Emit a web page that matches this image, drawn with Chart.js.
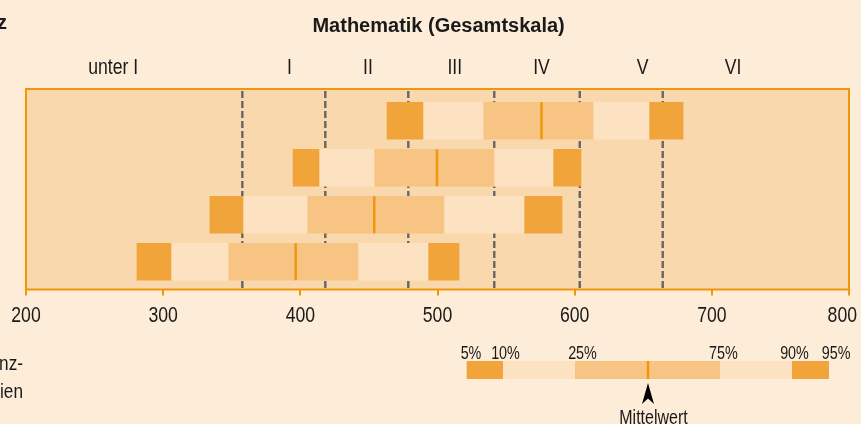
<!DOCTYPE html>
<html><head><meta charset="utf-8">
<script src="https://cdn.jsdelivr.net/npm/chart.js@4.4.0/dist/chart.umd.min.js"></script>
<style>html,body{margin:0;padding:0;background:#FCECD8;}canvas{display:block;}</style>
</head><body>
<canvas id="c" width="861" height="424"></canvas>
<script>
// ---- data ----
const categories = ['Gruppe 1', 'Gruppe 2', 'Gruppe 3', 'Gruppe 4'];
const p5   = [463.2, 394.7, 334.1, 280.9];
const p10  = [489.4, 413.6, 358.2, 305.7];
const p25  = [533.2, 453.7, 404.9, 347.3];
const mean = [575.8, 499.6, 453.9, 396.6];
const p75  = [613.4, 541.2, 504.7, 442.0];
const p90  = [654.2, 584.2, 563.1, 493.1];
const p95  = [679.0, 604.6, 590.8, 515.7];
const levelThresholds = [357.7, 418.2, 478.7, 541.4, 603.7, 664.2];
const levelLabels = ['unter I', 'I', 'II', 'III', 'IV', 'V', 'VI'];
const levelLabelPos = [263.6, 392.0, 449.3, 512.6, 575.8, 649.5, 715.4];
const xTicks = [200, 300, 400, 500, 600, 700, 800];
const legendLabels = ['5%', '10%', '25%', '75%', '90%', '95%'];
const titleText = 'Mathematik (Gesamtskala)';

// ---- styles ----
const C_DARK = '#F0A43A', C_LIGHT = '#FDE2C1', C_MED = '#F8C483';
const C_PLOT = '#FAD8AD', C_ORANGE = '#F0960A', C_DASH = '#666666';
const SANS = "'Liberation Sans', Arial, sans-serif";
const NARROW_K = 0.82;   // horizontal condensing to imitate a narrow grotesque

function narrowText(ctx, text, x, y, size, align, weight) {
  ctx.save();
  ctx.translate(x, y);
  ctx.scale(NARROW_K, 1);
  ctx.font = (weight || '') + ' ' + size + 'px ' + SANS;
  ctx.textAlign = align || 'center';
  ctx.fillText(text, 0, 0);
  ctx.restore();
}

function seg(a, b) { return categories.map((c, i) => ({ x: [a[i], b[i]], y: i })); }
const segs = [[p5, p10, C_DARK], [p10, p25, C_LIGHT], [p25, p75, C_MED], [p75, p90, C_LIGHT], [p90, p95, C_DARK]];
const datasets = segs.map(([a, b, col]) => ({
  data: seg(a, b), backgroundColor: col, borderWidth: 0, barThickness: 37, grouped: false
}));

const deco = {
  id: 'deco',
  beforeDraw(chart) {
    const { ctx, chartArea: ca } = chart;
    // condensed tick labels, positions still from the library's axis
    const xs = chart.scales.x;
    xs.drawLabels = function (area) {
      const c = this.ctx;
      for (const item of this.getLabelItems(area)) {
        let [tx, ty] = item.options.translation;
        c.save();
        c.font = item.font.string;
        const w = c.measureText(item.label).width * NARROW_K;
        if (tx + w / 2 > chart.width - 4) tx = chart.width - 4 - w / 2;
        c.translate(tx, ty);
        c.scale(NARROW_K, 1);
        c.fillStyle = item.options.color;
        c.textAlign = item.options.textAlign;
        c.textBaseline = item.options.textBaseline;
        c.fillText(item.label, 0, item.textOffset);
        c.restore();
      }
    };
    ctx.save(); ctx.fillStyle = C_PLOT;
    ctx.fillRect(ca.left, ca.top, ca.right - ca.left, ca.bottom - ca.top);
    ctx.restore();
  },
  beforeDatasetsDraw(chart) {
    const { ctx, chartArea: ca, scales: { x } } = chart;
    ctx.save(); ctx.strokeStyle = C_DASH; ctx.lineWidth = 2.4; ctx.setLineDash([7, 3]);
    levelThresholds.forEach(v => {
      const px = x.getPixelForValue(v);
      ctx.beginPath(); ctx.moveTo(px, ca.top + 2); ctx.lineTo(px, ca.bottom); ctx.stroke();
    });
    ctx.restore();
  },
  afterDatasetsDraw(chart) {
    const { ctx, chartArea: ca, scales: { x, y } } = chart;
    ctx.save();
    // mean markers
    ctx.strokeStyle = C_ORANGE; ctx.lineWidth = 2.5;
    mean.forEach((m, i) => {
      const px = x.getPixelForValue(m), py = y.getPixelForValue(i);
      ctx.beginPath(); ctx.moveTo(px, py - 18.5); ctx.lineTo(px, py + 18.5); ctx.stroke();
    });
    // frame
    ctx.lineWidth = 2; ctx.strokeStyle = C_ORANGE;
    ctx.strokeRect(ca.left, ca.top, ca.right - ca.left, ca.bottom - ca.top);
    // level labels
    ctx.fillStyle = '#1a1a1a'; ctx.textBaseline = 'alphabetic';
    levelLabels.forEach((t, i) => narrowText(ctx, t, x.getPixelForValue(levelLabelPos[i]), 73.5, 21.5, 'center'));
    // title
    ctx.font = 'bold 20px ' + SANS; ctx.textAlign = 'center';
    ctx.fillText(titleText, 438.6, 32);
    ctx.textAlign = 'right';
    ctx.fillText('z', 7, 28.5);
    narrowText(ctx, 'nz-', 23, 370, 21, 'right');
    narrowText(ctx, 'ien', 23, 398, 21, 'right');
    // legend (key)
    const lx = [466.7, 503, 575, 720, 792, 829];
    const lcol = [C_DARK, C_LIGHT, C_MED, C_LIGHT, C_DARK];
    for (let i = 0; i < 5; i++) { ctx.fillStyle = lcol[i]; ctx.fillRect(lx[i], 361, lx[i + 1] - lx[i], 18); }
    ctx.strokeStyle = C_ORANGE; ctx.lineWidth = 2.5;
    ctx.beginPath(); ctx.moveTo(648, 361); ctx.lineTo(648, 379); ctx.stroke();
    ctx.fillStyle = '#1a1a1a';
    const lcx = [471, 505.5, 582.5, 723.3, 794.5, 836.2];
    legendLabels.forEach((t, i) => narrowText(ctx, t, lcx[i], 359, 17.5, 'center'));
    narrowText(ctx, 'Mittelwert', 653.5, 424, 19.5, 'center');
    ctx.fillStyle = '#000';
    ctx.beginPath(); ctx.moveTo(648, 383); ctx.lineTo(654, 404); ctx.lineTo(648, 398.5); ctx.lineTo(642, 404); ctx.closePath(); ctx.fill();
    ctx.restore();
  }
};

new Chart(document.getElementById('c'), {
  type: 'bar',
  data: { datasets },
  options: {
    responsive: false, animation: false, indexAxis: 'y',
    layout: { padding: { top: 89, left: 26, right: 12, bottom: 0 } },
    plugins: { legend: { display: false }, tooltip: { enabled: false } },
    scales: {
      y: { type: 'linear', min: -0.6755, max: 3.590, reverse: true, offset: false, display: false },
      x: {
        type: 'linear', min: 200, max: 800,
        afterBuildTicks: s => { s.ticks = xTicks.map(v => ({ value: v })); },
        afterFit: s => { s.height = 134.5; s.paddingLeft = 0; s.paddingRight = 0; },
        ticks: { color: '#1a1a1a', font: { family: SANS, size: 21.5 }, padding: 8, maxRotation: 0 },
        grid: { drawOnChartArea: false, drawTicks: true, tickLength: 6, color: C_ORANGE, lineWidth: 2 },
        border: { display: false }
      }
    }
  },
  plugins: [deco]
});
</script>
</body></html>
